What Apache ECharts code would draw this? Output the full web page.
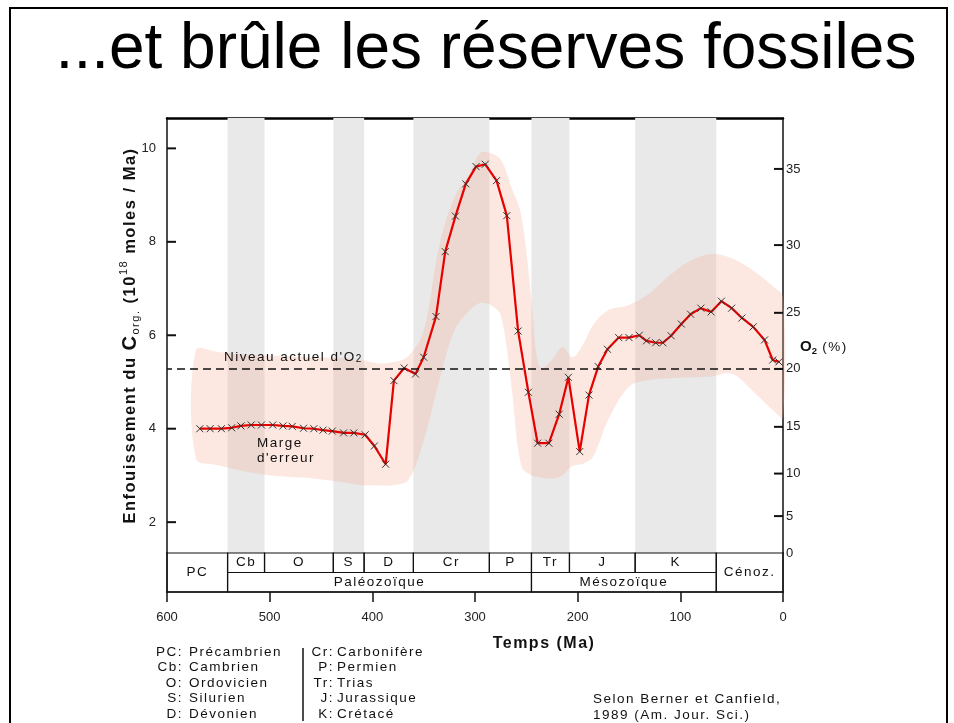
<!DOCTYPE html>
<html>
<head>
<meta charset="utf-8">
<title>...et brûle les réserves fossiles</title>
<script src="https://cdn.jsdelivr.net/npm/echarts@6/dist/echarts.min.js"></script>
<style>
  html, body { margin: 0; padding: 0; background: #fff; }
  #chart { width: 954px; height: 723px; }
</style>
</head>
<body>
<div id="chart"></div>
<script>
// --- données (Berner & Canfield 1989) ---
// âge (Ma) et enfouissement du C org. (10^18 moles / Ma)
const ages = [568, 558, 547, 537, 528, 518, 508, 497, 487, 478,
  467, 457, 448, 439, 428, 418, 407, 398, 387, 379,
  369, 358, 350, 338, 329, 319, 309, 299, 290, 279,
  269, 258, 248, 239, 228, 218, 209, 198, 189, 180,
  171, 160, 150, 140, 133, 124, 117, 109, 99, 90,
  80, 70, 60, 50, 40, 29, 18, 10, 4];
const corg = [4.00, 4.00, 4.00, 4.02, 4.06, 4.08, 4.08, 4.08, 4.06, 4.05,
  4.01, 4.00, 3.97, 3.95, 3.91, 3.91, 3.87, 3.63, 3.24, 5.03,
  5.30, 5.17, 5.53, 6.40, 7.79, 8.55, 9.24, 9.61, 9.66, 9.31,
  8.56, 6.09, 4.78, 3.69, 3.69, 4.31, 5.10, 3.51, 4.72, 5.33,
  5.70, 5.95, 5.95, 6.00, 5.88, 5.84, 5.84, 5.99, 6.24, 6.45,
  6.58, 6.50, 6.73, 6.58, 6.37, 6.18, 5.90, 5.47, 5.43];

// marge d'erreur (bornes haute et basse)
const bandAges = [572, 550, 520, 490, 460, 430, 410, 395, 380, 365,
  350, 335, 320, 305, 295, 285, 275, 265, 255, 245,
  240, 235, 225, 215, 205, 195, 185, 170, 150, 130,
  110, 90, 70, 50, 30, 10, 0];
const bandUpper = [5.68, 5.64, 5.58, 5.56, 5.53, 5.51, 5.47, 5.40, 5.42, 5.55,
  6.10, 7.90, 8.96, 9.47, 9.90, 9.90, 9.76, 9.20, 8.57, 6.75,
  5.58, 5.30, 5.47, 5.75, 5.53, 5.79, 6.22, 6.54, 6.65, 6.90,
  7.29, 7.60, 7.74, 7.65, 7.40, 7.05, 6.82];
const bandLower = [3.37, 3.22, 3.07, 2.98, 2.94, 2.86, 2.79, 2.79, 2.79, 2.90,
  3.75, 5.00, 6.10, 6.54, 6.69, 6.65, 6.43, 5.00, 3.20, 3.00,
  2.97, 2.95, 2.93, 3.00, 3.20, 3.25, 3.40, 4.20, 4.90, 5.04,
  5.08, 5.10, 5.12, 5.18, 4.82, 4.40, 4.25];

// axes
const corgTicks = [2, 4, 6, 8, 10];
const o2Labels = [0, 5, 10, 15, 20, 25, 30, 35];
const o2AtCorg = [1.34, 2.13, 3.04, 4.04, 5.28, 6.48, 7.93, 9.56];   // place de chaque graduation O2 sur l'échelle C org.
const presentO2 = 5.28;   // niveau actuel d'O2 (20 %)
const yMin = 1.34, yMax = 10.65;

// échelle des temps géologiques
const periodNames = ['Cb', 'O', 'S', 'D', 'Cr', 'P', 'Tr', 'J', 'K'];
const periodStart = [541, 505, 438, 408, 360, 286, 245, 208, 144];
const periodEnd = [505, 438, 408, 360, 286, 245, 208, 144, 65];
const eraNames = ['Paléozoïque', 'Mésozoïque'];
const eraStart = [541, 245];
const eraEnd = [245, 65];

// légende
const legendAbbr1 = ['PC', 'Cb', 'O', 'S', 'D'];
const legendName1 = ['Précambrien', 'Cambrien', 'Ordovicien', 'Silurien', 'Dévonien'];
const legendAbbr2 = ['Cr', 'P', 'Tr', 'J', 'K'];
const legendName2 = ['Carbonifère', 'Permien', 'Trias', 'Jurassique', 'Crétacé'];

// texte espacé : la famille "lsNN" sert seulement de repère (NN = espacement en dixièmes de px)
(function () {
  const proto = CanvasRenderingContext2D.prototype;
  if (!('letterSpacing' in proto)) return;
  ['fillText', 'strokeText', 'measureText'].forEach(function (name) {
    const orig = proto[name];
    proto[name] = function () {
      const m = /ls(\d+)/.exec(this.font);
      const prev = this.letterSpacing;
      this.letterSpacing = m ? (m[1] / 10) + 'px' : '0px';
      const r = orig.apply(this, arguments);
      this.letterSpacing = prev;
      return r;
    };
  });
})();

const FONT = '"Liberation Sans", Arial, sans-serif';
const SPACED = '"Liberation Sans", ls15, sans-serif';
const SMALL = '13.5px ' + SPACED;

let myChart = echarts.init(document.getElementById('chart'));

let lineData = ages.map((a, i) => [a, corg[i]]);

// bandes grises : une période sur deux
let stripes = [];
periodNames.forEach((n, i) => {
  if (i % 2 === 0) {
    stripes.push([{xAxis: periodStart[i], yAxis: yMin}, {xAxis: periodEnd[i], yAxis: yMax}]);
  }
});

// cases de l'échelle : [début, fin, bas, haut, texte]
let cells = [[600, 541, 0, 2, 'PC']]
  .concat(periodNames.map((n, i) => [periodStart[i], periodEnd[i], 1, 2, n]))
  .concat(eraNames.map((n, i) => [eraStart[i], eraEnd[i], 0, 1, n]))
  .concat([[65, 0, 0, 2, 'Cénoz.']]);

// petits traits de graduation vers l'intérieur : [âge du bord, valeur, sens]
let innerTicks = corgTicks.map(v => [600, v, 1]).concat(o2AtCorg.slice(1).map(v => [0, v, -1]));

// textes hors graphique
let graphics = [
  {type: 'rect', z: 100, shape: {x: 10, y: 8, width: 937, height: 740},
    style: {fill: 'none', stroke: '#000', lineWidth: 2}},
  {type: 'text', z: 100, x: 486, y: 50,
    style: {text: '...et brûle les réserves fossiles', font: '64px ' + FONT, fill: '#000',
      align: 'center', verticalAlign: 'middle'}},
  {type: 'text', z: 100, x: 224, y: 357,
    style: {text: "{a|Niveau actuel d'O}{b|2}", align: 'left', verticalAlign: 'middle',
      rich: {
        a: {font: SMALL, fill: '#111', lineHeight: 16},
        b: {font: '10px ' + SPACED, fill: '#111', lineHeight: 8, verticalAlign: 'bottom'}
      }}},
  {type: 'text', z: 100, x: 257, y: 451,
    style: {text: "Marge\nd'erreur", font: SMALL, fill: '#111', align: 'left',
      verticalAlign: 'middle', lineHeight: 15}},
  {type: 'text', z: 100, x: 800, y: 347,
    style: {text: '{o|O}{s|2}{n| (%)}', align: 'left', verticalAlign: 'middle',
      rich: {
        o: {font: 'bold 15px ' + FONT, fill: '#111', lineHeight: 18},
        s: {font: 'bold 9.5px ' + FONT, fill: '#111', lineHeight: 9, verticalAlign: 'bottom'},
        n: {font: '13.5px ' + SPACED, fill: '#111', lineHeight: 18}
      }}},
  {type: 'text', z: 100, x: 544, y: 644,
    style: {text: 'Temps (Ma)', font: 'bold 16px ' + SPACED, fill: '#111',
      align: 'center', verticalAlign: 'middle'}},
  {type: 'line', z: 100, shape: {x1: 303, y1: 648, x2: 303, y2: 721},
    style: {stroke: '#111', lineWidth: 1.5}},
  {type: 'text', z: 100, x: 593, y: 707,
    style: {text: 'Selon Berner et Canfield,\n1989 (Am. Jour. Sci.)', font: SMALL, fill: '#111',
      align: 'left', verticalAlign: 'middle', lineHeight: 16}}
];
[[legendAbbr1, legendName1, 183, 189], [legendAbbr2, legendName2, 334, 337]].forEach(function (col) {
  col[0].forEach(function (a, i) {
    let y = 652 + i * 15.5;
    graphics.push({type: 'text', z: 100, x: col[2], y: y,
      style: {text: a + ':', font: SMALL, fill: '#111', align: 'right', verticalAlign: 'middle'}});
    graphics.push({type: 'text', z: 100, x: col[3], y: y,
      style: {text: col[1][i], font: SMALL, fill: '#111', align: 'left', verticalAlign: 'middle'}});
  });
});

let option = {
  backgroundColor: '#fff',
  animation: false,
  grid: [
    {left: 167, right: 171, top: 118, height: 435},
    {left: 167, right: 171, top: 553, height: 39}
  ],
  xAxis: [
    {
      gridIndex: 0, type: 'value', min: 0, max: 600, inverse: true, position: 'top',
      axisLine: {onZero: false, lineStyle: {color: '#000', width: 2.5}},
      axisTick: {show: false}, axisLabel: {show: false}, splitLine: {show: false}
    },
    {
      gridIndex: 1, type: 'value', min: 0, max: 600, interval: 100, inverse: true, position: 'bottom',
      axisLine: {onZero: false, lineStyle: {color: '#111', width: 1.5}},
      axisTick: {length: 10, lineStyle: {color: '#111', width: 1.5}},
      axisLabel: {margin: 19, color: '#222', fontSize: 13, fontFamily: FONT},
      splitLine: {show: false}
    }
  ],
  yAxis: [
    {
      gridIndex: 0, type: 'value', min: yMin, max: yMax, position: 'left',
      axisLine: {show: true, onZero: false, lineStyle: {color: '#111', width: 1.5}},
      axisTick: {show: false},
      axisLabel: {customValues: corgTicks, margin: 11, color: '#222', fontSize: 13, fontFamily: FONT},
      splitLine: {show: false},
      name: '{b|Enfouissement du }{c|C}{s|org.}{b| (10}{p|18}{b| moles / Ma)}',
      nameLocation: 'middle', nameRotate: 90, nameGap: 25, nameMoveOverlap: false,
      nameTextStyle: {
        rich: {
          b: {fontFamily: SPACED, fontWeight: 'bold', fontSize: 16.5, color: '#111', lineHeight: 24},
          c: {fontFamily: SPACED, fontWeight: 'bold', fontSize: 20, color: '#111', lineHeight: 24},
          s: {fontFamily: SPACED, fontSize: 11, color: '#111', lineHeight: 14, verticalAlign: 'bottom'},
          p: {fontFamily: SPACED, fontSize: 11, color: '#111', lineHeight: 14, verticalAlign: 'top'}
        }
      }
    },
    {
      gridIndex: 0, type: 'value', min: yMin, max: yMax, position: 'right',
      axisLine: {show: true, onZero: false, lineStyle: {color: '#111', width: 1.5}},
      axisTick: {show: false},
      axisLabel: {customValues: o2AtCorg, margin: 3, color: '#222', fontSize: 13, fontFamily: FONT,
        formatter: function (value) {
          let k = o2AtCorg.indexOf(value);
          return k >= 0 ? String(o2Labels[k]) : '';
        }},
      splitLine: {show: false}
    },
    {
      gridIndex: 1, type: 'value', min: 0, max: 2, position: 'left',
      axisLine: {show: true, onZero: false, lineStyle: {color: '#111', width: 1.5}},
      axisTick: {show: false}, axisLabel: {show: false}, splitLine: {show: false}
    },
    {
      gridIndex: 1, type: 'value', min: 0, max: 2, position: 'right',
      axisLine: {show: true, onZero: false, lineStyle: {color: '#111', width: 1.5}},
      axisTick: {show: false}, axisLabel: {show: false}, splitLine: {show: false}
    }
  ],
  series: [
    {
      // marge d'erreur : polygone entre les deux bornes
      name: "marge d'erreur", type: 'custom', xAxisIndex: 0, yAxisIndex: 0, z: 2, silent: true,
      data: [[bandAges[0], bandLower[0]]],
      renderItem: function (params, api) {
        let top = bandAges.map((a, i) => api.coord([a, bandUpper[i]]));
        let bottom = bandAges.map((a, i) => api.coord([a, bandLower[i]])).reverse();
        return {
          type: 'polygon',
          shape: {points: top.concat(bottom), smooth: 0.35},
          style: {fill: 'rgba(246,178,152,0.3)'}
        };
      }
    },
    {
      // graduations tournées vers l'intérieur (C org. à gauche, O2 à droite)
      name: 'graduations', type: 'custom', xAxisIndex: 0, yAxisIndex: 0, z: 5, silent: true,
      data: innerTicks,
      renderItem: function (params, api) {
        let p = api.coord([api.value(0), api.value(1)]);
        let d = 9 * api.value(2);
        return {
          type: 'line',
          shape: {x1: p[0], y1: p[1], x2: p[0] + d, y2: p[1]},
          style: {stroke: '#111', lineWidth: 2}
        };
      }
    },
    {
      name: 'C org.', type: 'line', xAxisIndex: 0, yAxisIndex: 0, z: 4,
      data: lineData,
      symbol: 'path://M0,0L10,10M10,0L0,10', symbolSize: 7,
      lineStyle: {color: '#e60000', width: 2.2},
      itemStyle: {color: '#e60000', borderColor: '#333', borderWidth: 1},
      markArea: {silent: true, z: 1, itemStyle: {color: '#e9e9e9'}, data: stripes},
      markLine: {
        silent: true, symbol: 'none', label: {show: false},
        lineStyle: {color: '#111', type: [8, 5], width: 1.5},
        data: [{yAxis: presentO2}]
      }
    },
    {
      name: 'échelle', type: 'custom', xAxisIndex: 1, yAxisIndex: 2,
      data: cells.map(c => c.slice(0, 4)),
      encode: {x: [0, 1], y: [2, 3]},
      renderItem: function (params, api) {
        let p0 = api.coord([api.value(0), api.value(3)]);
        let p1 = api.coord([api.value(1), api.value(2)]);
        return {
          type: 'group',
          children: [
            {type: 'rect',
              shape: {x: p0[0], y: p0[1], width: p1[0] - p0[0], height: p1[1] - p0[1]},
              style: {fill: 'none', stroke: '#111', lineWidth: 1.2}},
            {type: 'text', x: (p0[0] + p1[0]) / 2, y: (p0[1] + p1[1]) / 2,
              style: {text: cells[params.dataIndex][4], font: SMALL, fill: '#111',
                align: 'center', verticalAlign: 'middle'}}
          ]
        };
      }
    }
  ],
  graphic: graphics
};

myChart.setOption(option);
window.onresize = function () {
  myChart.resize();
};
</script>
</body>
</html>
